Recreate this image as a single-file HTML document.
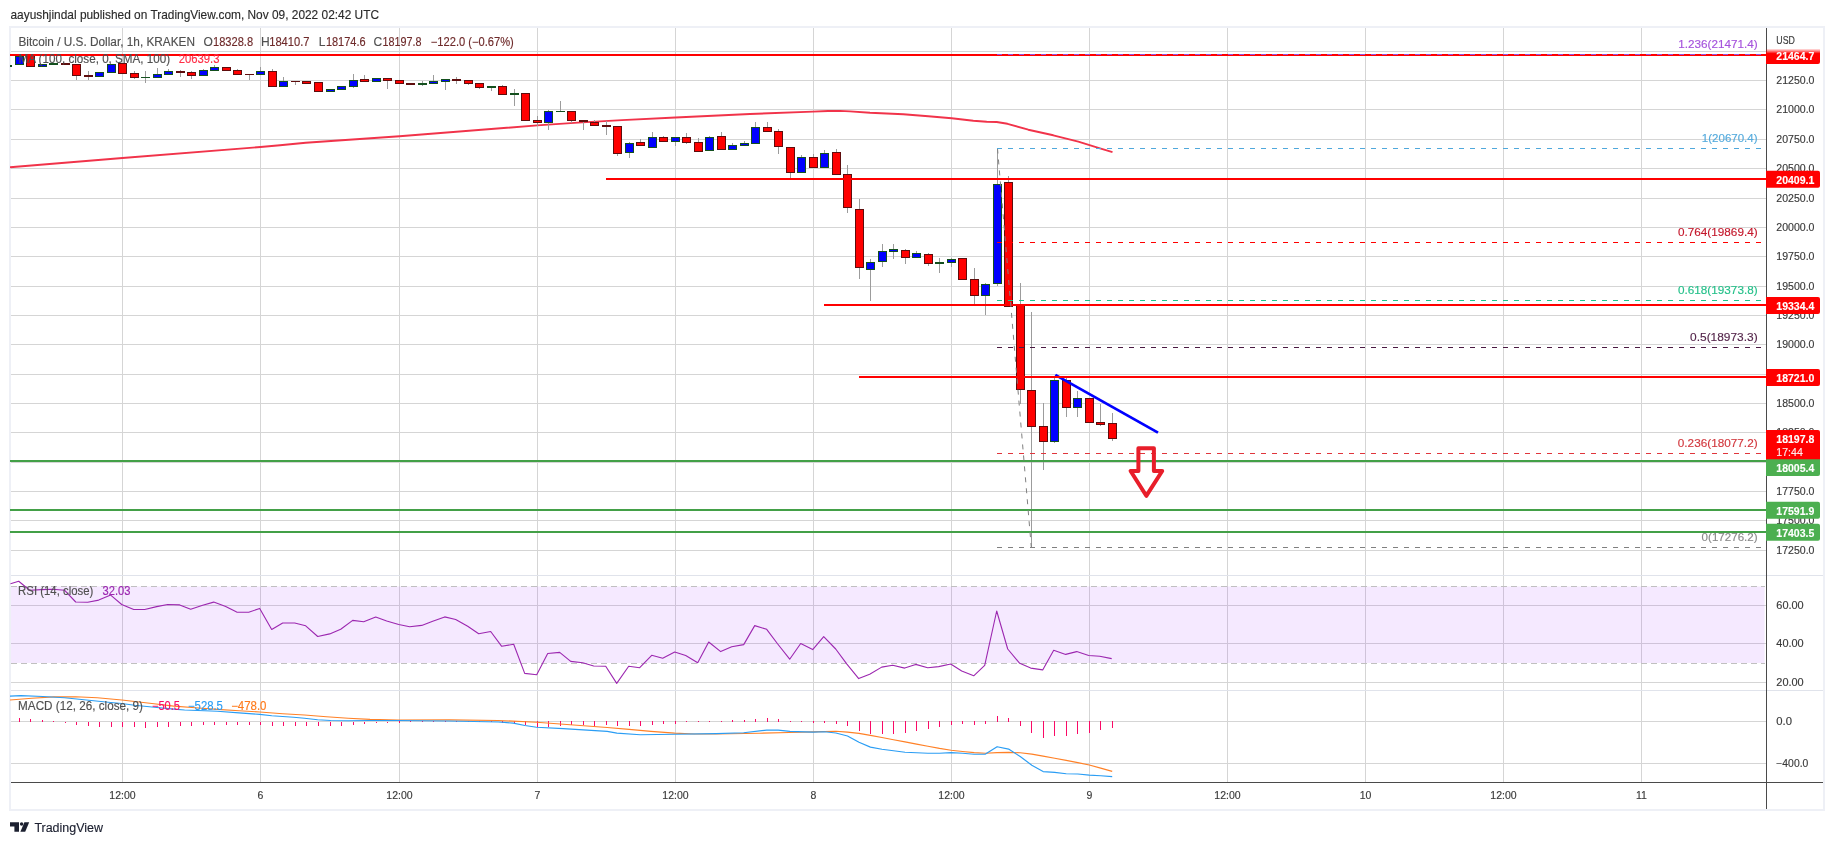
<!DOCTYPE html>
<html><head><meta charset="utf-8"><title>BTCUSD chart</title>
<style>html,body{margin:0;padding:0;background:#fff}body{width:1834px;height:845px;overflow:hidden;position:relative;font-family:"Liberation Sans",sans-serif}</style>
</head><body>
<svg width="1834" height="845" viewBox="0 0 1834 845" style="position:absolute;left:0;top:0;will-change:transform" font-family="Liberation Sans, sans-serif">
<defs><clipPath id="cp"><rect x="10" y="28" width="1756.5" height="754"/></clipPath><linearGradient id="fade" x1="0" y1="0" x2="0" y2="1"><stop offset="0" stop-color="#ff0000" stop-opacity="0"/><stop offset="0.33" stop-color="#ff0000" stop-opacity="1"/></linearGradient></defs>
<rect x="0" y="0" width="1834" height="845" fill="#ffffff"/>
<rect x="10" y="27" width="1814" height="783" fill="#ffffff" stroke="#eef0f6" stroke-width="2"/>
<g stroke="#d5d5d5" stroke-width="1" shape-rendering="crispEdges">
<line x1="122.5" y1="28" x2="122.5" y2="782"/>
<line x1="260.5" y1="28" x2="260.5" y2="782"/>
<line x1="399.5" y1="28" x2="399.5" y2="782"/>
<line x1="537.5" y1="28" x2="537.5" y2="782"/>
<line x1="675.5" y1="28" x2="675.5" y2="782"/>
<line x1="813.5" y1="28" x2="813.5" y2="782"/>
<line x1="951.5" y1="28" x2="951.5" y2="782"/>
<line x1="1089.5" y1="28" x2="1089.5" y2="782"/>
<line x1="1227.5" y1="28" x2="1227.5" y2="782"/>
<line x1="1365.5" y1="28" x2="1365.5" y2="782"/>
<line x1="1503.5" y1="28" x2="1503.5" y2="782"/>
<line x1="1641.5" y1="28" x2="1641.5" y2="782"/>
<line x1="11" y1="51.5" x2="1766" y2="51.5"/>
<line x1="11" y1="80.5" x2="1766" y2="80.5"/>
<line x1="11" y1="109.5" x2="1766" y2="109.5"/>
<line x1="11" y1="139.5" x2="1766" y2="139.5"/>
<line x1="11" y1="168.5" x2="1766" y2="168.5"/>
<line x1="11" y1="198.5" x2="1766" y2="198.5"/>
<line x1="11" y1="227.5" x2="1766" y2="227.5"/>
<line x1="11" y1="256.5" x2="1766" y2="256.5"/>
<line x1="11" y1="286.5" x2="1766" y2="286.5"/>
<line x1="11" y1="315.5" x2="1766" y2="315.5"/>
<line x1="11" y1="344.5" x2="1766" y2="344.5"/>
<line x1="11" y1="374.5" x2="1766" y2="374.5"/>
<line x1="11" y1="403.5" x2="1766" y2="403.5"/>
<line x1="11" y1="432.5" x2="1766" y2="432.5"/>
<line x1="11" y1="462.5" x2="1766" y2="462.5"/>
<line x1="11" y1="491.5" x2="1766" y2="491.5"/>
<line x1="11" y1="520.5" x2="1766" y2="520.5"/>
<line x1="11" y1="550.5" x2="1766" y2="550.5"/>
<line x1="11" y1="605.5" x2="1766" y2="605.5"/>
<line x1="11" y1="643.5" x2="1766" y2="643.5"/>
<line x1="11" y1="682.5" x2="1766" y2="682.5"/>
<line x1="11" y1="721.5" x2="1766" y2="721.5"/>
<line x1="11" y1="763.5" x2="1766" y2="763.5"/>
</g>
<g stroke="#e0e3eb" stroke-width="1" shape-rendering="crispEdges"><line x1="11" y1="575.5" x2="1823" y2="575.5"/><line x1="11" y1="690.5" x2="1823" y2="690.5"/></g>
<g clip-path="url(#cp)">
<rect x="11" y="586.4" width="1753.6" height="76.6" fill="#9c27ff" fill-opacity="0.10"/>
<g stroke="#c0c0c0" stroke-width="1" stroke-dasharray="6 4" shape-rendering="crispEdges"><line x1="11" y1="586.5" x2="1764.6" y2="586.5"/><line x1="11" y1="663.5" x2="1764.6" y2="663.5"/></g>
<polyline fill="none" stroke="#f1334a" stroke-width="1.9" stroke-linejoin="round" points="10,167.3 122.5,158 260.5,147 280,145.3 305.7,142.7 399.5,136.2 537.3,125.4 578,122.6 622,120.1 675.5,117.5 750,114 813,111.6 828,111.0 840,110.9 850,111.4 870,112.8 903.3,114.2 928.3,116.3 951.7,118.3 973.3,120.8 986.7,121.7 996.7,122 1007.5,123.8 1028.3,129.7 1053.3,135.3 1078.3,141.7 1100,148.3 1112.5,152.1"/>
<g shape-rendering="crispEdges">
<line x1="7.5" y1="64.7" x2="7.5" y2="66.5" stroke="#9c9c9c" stroke-width="1"/>
<line x1="19.5" y1="56.0" x2="19.5" y2="64.6" stroke="#9c9c9c" stroke-width="1"/>
<line x1="30.5" y1="55.0" x2="30.5" y2="66.5" stroke="#9c9c9c" stroke-width="1"/>
<line x1="42.5" y1="64.3" x2="42.5" y2="66.5" stroke="#9c9c9c" stroke-width="1"/>
<line x1="53.5" y1="62.7" x2="53.5" y2="64.7" stroke="#9c9c9c" stroke-width="1"/>
<line x1="65.5" y1="63.3" x2="65.5" y2="64.7" stroke="#9c9c9c" stroke-width="1"/>
<line x1="76.5" y1="64.3" x2="76.5" y2="80.2" stroke="#9c9c9c" stroke-width="1"/>
<line x1="88.5" y1="71.0" x2="88.5" y2="79.7" stroke="#9c9c9c" stroke-width="1"/>
<line x1="99.5" y1="72.3" x2="99.5" y2="76.5" stroke="#9c9c9c" stroke-width="1"/>
<line x1="111.5" y1="64.3" x2="111.5" y2="72.6" stroke="#9c9c9c" stroke-width="1"/>
<line x1="122.5" y1="63.3" x2="122.5" y2="73.5" stroke="#9c9c9c" stroke-width="1"/>
<line x1="134.5" y1="70.7" x2="134.5" y2="78.5" stroke="#9c9c9c" stroke-width="1"/>
<line x1="145.5" y1="71.0" x2="145.5" y2="82.7" stroke="#9c9c9c" stroke-width="1"/>
<line x1="157.5" y1="68.0" x2="157.5" y2="77.5" stroke="#9c9c9c" stroke-width="1"/>
<line x1="168.5" y1="69.0" x2="168.5" y2="74.5" stroke="#9c9c9c" stroke-width="1"/>
<line x1="180.5" y1="69.7" x2="180.5" y2="76.8" stroke="#9c9c9c" stroke-width="1"/>
<line x1="191.5" y1="71.0" x2="191.5" y2="79.0" stroke="#9c9c9c" stroke-width="1"/>
<line x1="203.5" y1="69.0" x2="203.5" y2="75.5" stroke="#9c9c9c" stroke-width="1"/>
<line x1="214.5" y1="65.2" x2="214.5" y2="70.5" stroke="#9c9c9c" stroke-width="1"/>
<line x1="226.5" y1="67.2" x2="226.5" y2="70.5" stroke="#9c9c9c" stroke-width="1"/>
<line x1="237.5" y1="69.0" x2="237.5" y2="74.5" stroke="#9c9c9c" stroke-width="1"/>
<line x1="249.5" y1="73.5" x2="249.5" y2="79.7" stroke="#9c9c9c" stroke-width="1"/>
<line x1="260.5" y1="66.5" x2="260.5" y2="74.5" stroke="#9c9c9c" stroke-width="1"/>
<line x1="272.5" y1="69.0" x2="272.5" y2="86.5" stroke="#9c9c9c" stroke-width="1"/>
<line x1="283.5" y1="77.0" x2="283.5" y2="86.7" stroke="#9c9c9c" stroke-width="1"/>
<line x1="295.5" y1="80.5" x2="295.5" y2="84.7" stroke="#9c9c9c" stroke-width="1"/>
<line x1="306.5" y1="81.0" x2="306.5" y2="84.0" stroke="#9c9c9c" stroke-width="1"/>
<line x1="318.5" y1="82.2" x2="318.5" y2="91.5" stroke="#9c9c9c" stroke-width="1"/>
<line x1="330.5" y1="89.2" x2="330.5" y2="91.5" stroke="#9c9c9c" stroke-width="1"/>
<line x1="341.5" y1="86.3" x2="341.5" y2="89.5" stroke="#9c9c9c" stroke-width="1"/>
<line x1="353.5" y1="74.2" x2="353.5" y2="87.5" stroke="#9c9c9c" stroke-width="1"/>
<line x1="364.5" y1="75.0" x2="364.5" y2="81.5" stroke="#9c9c9c" stroke-width="1"/>
<line x1="376.5" y1="78.3" x2="376.5" y2="81.5" stroke="#9c9c9c" stroke-width="1"/>
<line x1="387.5" y1="78.3" x2="387.5" y2="88.7" stroke="#9c9c9c" stroke-width="1"/>
<line x1="399.5" y1="80.2" x2="399.5" y2="83.5" stroke="#9c9c9c" stroke-width="1"/>
<line x1="410.5" y1="83.2" x2="410.5" y2="84.7" stroke="#9c9c9c" stroke-width="1"/>
<line x1="422.5" y1="80.5" x2="422.5" y2="85.5" stroke="#9c9c9c" stroke-width="1"/>
<line x1="433.5" y1="75.0" x2="433.5" y2="83.5" stroke="#9c9c9c" stroke-width="1"/>
<line x1="445.5" y1="79.2" x2="445.5" y2="89.7" stroke="#9c9c9c" stroke-width="1"/>
<line x1="456.5" y1="77.2" x2="456.5" y2="83.7" stroke="#9c9c9c" stroke-width="1"/>
<line x1="468.5" y1="80.2" x2="468.5" y2="85.3" stroke="#9c9c9c" stroke-width="1"/>
<line x1="479.5" y1="83.2" x2="479.5" y2="88.5" stroke="#9c9c9c" stroke-width="1"/>
<line x1="491.5" y1="86.3" x2="491.5" y2="90.5" stroke="#9c9c9c" stroke-width="1"/>
<line x1="502.5" y1="85.0" x2="502.5" y2="94.5" stroke="#9c9c9c" stroke-width="1"/>
<line x1="514.5" y1="89.2" x2="514.5" y2="105.5" stroke="#9c9c9c" stroke-width="1"/>
<line x1="525.5" y1="93.3" x2="525.5" y2="120.7" stroke="#9c9c9c" stroke-width="1"/>
<line x1="537.5" y1="115.8" x2="537.5" y2="126.3" stroke="#9c9c9c" stroke-width="1"/>
<line x1="548.5" y1="110.0" x2="548.5" y2="129.7" stroke="#9c9c9c" stroke-width="1"/>
<line x1="560.5" y1="101.2" x2="560.5" y2="112.0" stroke="#9c9c9c" stroke-width="1"/>
<line x1="571.5" y1="111.3" x2="571.5" y2="122.8" stroke="#9c9c9c" stroke-width="1"/>
<line x1="583.5" y1="120.0" x2="583.5" y2="129.7" stroke="#9c9c9c" stroke-width="1"/>
<line x1="594.5" y1="120.0" x2="594.5" y2="125.5" stroke="#9c9c9c" stroke-width="1"/>
<line x1="606.5" y1="120.8" x2="606.5" y2="134.7" stroke="#9c9c9c" stroke-width="1"/>
<line x1="617.5" y1="126.3" x2="617.5" y2="155.8" stroke="#9c9c9c" stroke-width="1"/>
<line x1="629.5" y1="142.2" x2="629.5" y2="157.5" stroke="#9c9c9c" stroke-width="1"/>
<line x1="640.5" y1="138.7" x2="640.5" y2="145.5" stroke="#9c9c9c" stroke-width="1"/>
<line x1="652.5" y1="132.0" x2="652.5" y2="147.5" stroke="#9c9c9c" stroke-width="1"/>
<line x1="663.5" y1="136.2" x2="663.5" y2="141.5" stroke="#9c9c9c" stroke-width="1"/>
<line x1="675.5" y1="137.2" x2="675.5" y2="145.8" stroke="#9c9c9c" stroke-width="1"/>
<line x1="686.5" y1="133.0" x2="686.5" y2="143.7" stroke="#9c9c9c" stroke-width="1"/>
<line x1="698.5" y1="138.0" x2="698.5" y2="151.7" stroke="#9c9c9c" stroke-width="1"/>
<line x1="709.5" y1="136.2" x2="709.5" y2="150.5" stroke="#9c9c9c" stroke-width="1"/>
<line x1="721.5" y1="132.0" x2="721.5" y2="149.5" stroke="#9c9c9c" stroke-width="1"/>
<line x1="732.5" y1="143.0" x2="732.5" y2="149.5" stroke="#9c9c9c" stroke-width="1"/>
<line x1="744.5" y1="141.0" x2="744.5" y2="145.5" stroke="#9c9c9c" stroke-width="1"/>
<line x1="755.5" y1="122.0" x2="755.5" y2="143.5" stroke="#9c9c9c" stroke-width="1"/>
<line x1="767.5" y1="122.0" x2="767.5" y2="131.5" stroke="#9c9c9c" stroke-width="1"/>
<line x1="778.5" y1="129.2" x2="778.5" y2="153.8" stroke="#9c9c9c" stroke-width="1"/>
<line x1="790.5" y1="147.3" x2="790.5" y2="178.3" stroke="#9c9c9c" stroke-width="1"/>
<line x1="801.5" y1="155.0" x2="801.5" y2="172.5" stroke="#9c9c9c" stroke-width="1"/>
<line x1="813.5" y1="153.8" x2="813.5" y2="167.5" stroke="#9c9c9c" stroke-width="1"/>
<line x1="824.5" y1="150.0" x2="824.5" y2="167.5" stroke="#9c9c9c" stroke-width="1"/>
<line x1="836.5" y1="148.8" x2="836.5" y2="174.5" stroke="#9c9c9c" stroke-width="1"/>
<line x1="847.5" y1="165.0" x2="847.5" y2="212.8" stroke="#9c9c9c" stroke-width="1"/>
<line x1="859.5" y1="199.2" x2="859.5" y2="278.8" stroke="#9c9c9c" stroke-width="1"/>
<line x1="870.5" y1="259.0" x2="870.5" y2="300.7" stroke="#9c9c9c" stroke-width="1"/>
<line x1="882.5" y1="244.2" x2="882.5" y2="266.7" stroke="#9c9c9c" stroke-width="1"/>
<line x1="893.5" y1="243.8" x2="893.5" y2="258.7" stroke="#9c9c9c" stroke-width="1"/>
<line x1="905.5" y1="249.3" x2="905.5" y2="263.7" stroke="#9c9c9c" stroke-width="1"/>
<line x1="916.5" y1="251.2" x2="916.5" y2="257.5" stroke="#9c9c9c" stroke-width="1"/>
<line x1="928.5" y1="253.0" x2="928.5" y2="265.8" stroke="#9c9c9c" stroke-width="1"/>
<line x1="939.5" y1="258.0" x2="939.5" y2="272.8" stroke="#9c9c9c" stroke-width="1"/>
<line x1="951.5" y1="258.3" x2="951.5" y2="266.7" stroke="#9c9c9c" stroke-width="1"/>
<line x1="962.5" y1="258.3" x2="962.5" y2="279.5" stroke="#9c9c9c" stroke-width="1"/>
<line x1="974.5" y1="268.2" x2="974.5" y2="304.0" stroke="#9c9c9c" stroke-width="1"/>
<line x1="985.5" y1="283.2" x2="985.5" y2="315.0" stroke="#9c9c9c" stroke-width="1"/>
<line x1="997.5" y1="148.4" x2="997.5" y2="286.0" stroke="#9c9c9c" stroke-width="1"/>
<line x1="1008.5" y1="176.3" x2="1008.5" y2="306.7" stroke="#9c9c9c" stroke-width="1"/>
<line x1="1020.5" y1="283.2" x2="1020.5" y2="404.0" stroke="#9c9c9c" stroke-width="1"/>
<line x1="1031.5" y1="312.0" x2="1031.5" y2="547.3" stroke="#9c9c9c" stroke-width="1"/>
<line x1="1043.5" y1="403.4" x2="1043.5" y2="469.7" stroke="#9c9c9c" stroke-width="1"/>
<line x1="1054.5" y1="378.0" x2="1054.5" y2="442.7" stroke="#9c9c9c" stroke-width="1"/>
<line x1="1066.5" y1="378.0" x2="1066.5" y2="416.7" stroke="#9c9c9c" stroke-width="1"/>
<line x1="1077.5" y1="390.5" x2="1077.5" y2="416.7" stroke="#9c9c9c" stroke-width="1"/>
<line x1="1089.5" y1="398.3" x2="1089.5" y2="422.6" stroke="#9c9c9c" stroke-width="1"/>
<line x1="1100.5" y1="403.8" x2="1100.5" y2="425.6" stroke="#9c9c9c" stroke-width="1"/>
<line x1="1112.5" y1="413.0" x2="1112.5" y2="440.7" stroke="#9c9c9c" stroke-width="1"/>
<rect x="3.0" y="65" width="9" height="2" fill="#14501e"/>
<rect x="15.5" y="56.5" width="8" height="8" fill="#0000ff" stroke="#14501e" stroke-width="1"/>
<rect x="26.5" y="55.5" width="8" height="11" fill="#ff0000" stroke="#5e0d0d" stroke-width="1"/>
<rect x="38.5" y="64.5" width="8" height="2" fill="#0000ff" stroke="#14501e" stroke-width="1"/>
<rect x="49.5" y="63.5" width="8" height="1" fill="#0000ff" stroke="#14501e" stroke-width="1"/>
<rect x="61.0" y="63" width="9" height="2" fill="#5e0d0d"/>
<rect x="72.5" y="64.5" width="8" height="11" fill="#ff0000" stroke="#5e0d0d" stroke-width="1"/>
<rect x="84.0" y="75" width="9" height="2" fill="#5e0d0d"/>
<rect x="95.5" y="72.5" width="8" height="4" fill="#0000ff" stroke="#14501e" stroke-width="1"/>
<rect x="107.5" y="64.5" width="8" height="8" fill="#0000ff" stroke="#14501e" stroke-width="1"/>
<rect x="118.5" y="63.5" width="8" height="10" fill="#ff0000" stroke="#5e0d0d" stroke-width="1"/>
<rect x="130.5" y="73.5" width="8" height="4" fill="#ff0000" stroke="#5e0d0d" stroke-width="1"/>
<rect x="141.0" y="77" width="9" height="1" fill="#14501e"/>
<rect x="153.5" y="74.5" width="8" height="3" fill="#0000ff" stroke="#14501e" stroke-width="1"/>
<rect x="164.5" y="71.5" width="8" height="3" fill="#0000ff" stroke="#14501e" stroke-width="1"/>
<rect x="176.0" y="71" width="9" height="2" fill="#5e0d0d"/>
<rect x="187.5" y="72.5" width="8" height="3" fill="#ff0000" stroke="#5e0d0d" stroke-width="1"/>
<rect x="199.5" y="70.5" width="8" height="5" fill="#0000ff" stroke="#14501e" stroke-width="1"/>
<rect x="210.5" y="67.5" width="8" height="3" fill="#0000ff" stroke="#14501e" stroke-width="1"/>
<rect x="222.5" y="67.5" width="8" height="3" fill="#ff0000" stroke="#5e0d0d" stroke-width="1"/>
<rect x="233.5" y="70.5" width="8" height="4" fill="#ff0000" stroke="#5e0d0d" stroke-width="1"/>
<rect x="245.0" y="74" width="9" height="1" fill="#5e0d0d"/>
<rect x="256.5" y="71.5" width="8" height="3" fill="#0000ff" stroke="#14501e" stroke-width="1"/>
<rect x="268.5" y="71.5" width="8" height="15" fill="#ff0000" stroke="#5e0d0d" stroke-width="1"/>
<rect x="279.5" y="81.5" width="8" height="5" fill="#0000ff" stroke="#14501e" stroke-width="1"/>
<rect x="291.0" y="81" width="9" height="1" fill="#5e0d0d"/>
<rect x="302.5" y="81.5" width="8" height="2" fill="#ff0000" stroke="#5e0d0d" stroke-width="1"/>
<rect x="314.5" y="82.5" width="8" height="9" fill="#ff0000" stroke="#5e0d0d" stroke-width="1"/>
<rect x="326.5" y="89.5" width="8" height="2" fill="#0000ff" stroke="#14501e" stroke-width="1"/>
<rect x="337.5" y="86.5" width="8" height="3" fill="#0000ff" stroke="#14501e" stroke-width="1"/>
<rect x="349.5" y="80.5" width="8" height="6" fill="#0000ff" stroke="#14501e" stroke-width="1"/>
<rect x="360.5" y="79.5" width="8" height="2" fill="#ff0000" stroke="#5e0d0d" stroke-width="1"/>
<rect x="372.5" y="78.5" width="8" height="3" fill="#0000ff" stroke="#14501e" stroke-width="1"/>
<rect x="383.5" y="78.5" width="8" height="2" fill="#ff0000" stroke="#5e0d0d" stroke-width="1"/>
<rect x="395.5" y="80.5" width="8" height="3" fill="#ff0000" stroke="#5e0d0d" stroke-width="1"/>
<rect x="406.0" y="83" width="9" height="2" fill="#5e0d0d"/>
<rect x="418.0" y="83" width="9" height="2" fill="#14501e"/>
<rect x="429.5" y="81.5" width="8" height="2" fill="#0000ff" stroke="#14501e" stroke-width="1"/>
<rect x="441.5" y="79.5" width="8" height="2" fill="#0000ff" stroke="#14501e" stroke-width="1"/>
<rect x="452.0" y="79" width="9" height="2" fill="#5e0d0d"/>
<rect x="464.5" y="80.5" width="8" height="3" fill="#ff0000" stroke="#5e0d0d" stroke-width="1"/>
<rect x="475.5" y="83.5" width="8" height="4" fill="#ff0000" stroke="#5e0d0d" stroke-width="1"/>
<rect x="487.0" y="86" width="9" height="2" fill="#14501e"/>
<rect x="498.5" y="86.5" width="8" height="8" fill="#ff0000" stroke="#5e0d0d" stroke-width="1"/>
<rect x="510.0" y="93" width="9" height="2" fill="#14501e"/>
<rect x="521.5" y="93.5" width="8" height="27" fill="#ff0000" stroke="#5e0d0d" stroke-width="1"/>
<rect x="533.5" y="120.5" width="8" height="2" fill="#ff0000" stroke="#5e0d0d" stroke-width="1"/>
<rect x="544.5" y="111.5" width="8" height="11" fill="#0000ff" stroke="#14501e" stroke-width="1"/>
<rect x="556.0" y="111" width="9" height="1" fill="#14501e"/>
<rect x="567.5" y="111.5" width="8" height="9" fill="#ff0000" stroke="#5e0d0d" stroke-width="1"/>
<rect x="579.0" y="120" width="9" height="2" fill="#5e0d0d"/>
<rect x="590.5" y="122.5" width="8" height="3" fill="#ff0000" stroke="#5e0d0d" stroke-width="1"/>
<rect x="602.0" y="125" width="9" height="2" fill="#5e0d0d"/>
<rect x="613.5" y="126.5" width="8" height="27" fill="#ff0000" stroke="#5e0d0d" stroke-width="1"/>
<rect x="625.5" y="143.5" width="8" height="9" fill="#0000ff" stroke="#14501e" stroke-width="1"/>
<rect x="636.5" y="142.5" width="8" height="3" fill="#ff0000" stroke="#5e0d0d" stroke-width="1"/>
<rect x="648.5" y="137.5" width="8" height="10" fill="#0000ff" stroke="#14501e" stroke-width="1"/>
<rect x="659.5" y="137.5" width="8" height="4" fill="#ff0000" stroke="#5e0d0d" stroke-width="1"/>
<rect x="671.5" y="137.5" width="8" height="4" fill="#0000ff" stroke="#14501e" stroke-width="1"/>
<rect x="682.5" y="137.5" width="8" height="5" fill="#ff0000" stroke="#5e0d0d" stroke-width="1"/>
<rect x="694.5" y="142.5" width="8" height="9" fill="#ff0000" stroke="#5e0d0d" stroke-width="1"/>
<rect x="705.5" y="137.5" width="8" height="13" fill="#0000ff" stroke="#14501e" stroke-width="1"/>
<rect x="717.5" y="136.5" width="8" height="13" fill="#ff0000" stroke="#5e0d0d" stroke-width="1"/>
<rect x="728.5" y="145.5" width="8" height="4" fill="#0000ff" stroke="#14501e" stroke-width="1"/>
<rect x="740.5" y="143.5" width="8" height="2" fill="#0000ff" stroke="#14501e" stroke-width="1"/>
<rect x="751.5" y="127.5" width="8" height="16" fill="#0000ff" stroke="#14501e" stroke-width="1"/>
<rect x="763.5" y="127.5" width="8" height="4" fill="#ff0000" stroke="#5e0d0d" stroke-width="1"/>
<rect x="774.5" y="131.5" width="8" height="15" fill="#ff0000" stroke="#5e0d0d" stroke-width="1"/>
<rect x="786.5" y="147.5" width="8" height="25" fill="#ff0000" stroke="#5e0d0d" stroke-width="1"/>
<rect x="797.5" y="157.5" width="8" height="15" fill="#0000ff" stroke="#14501e" stroke-width="1"/>
<rect x="809.5" y="157.5" width="8" height="10" fill="#ff0000" stroke="#5e0d0d" stroke-width="1"/>
<rect x="820.5" y="153.5" width="8" height="14" fill="#0000ff" stroke="#14501e" stroke-width="1"/>
<rect x="832.5" y="152.5" width="8" height="22" fill="#ff0000" stroke="#5e0d0d" stroke-width="1"/>
<rect x="843.5" y="174.5" width="8" height="33" fill="#ff0000" stroke="#5e0d0d" stroke-width="1"/>
<rect x="855.5" y="209.5" width="8" height="58" fill="#ff0000" stroke="#5e0d0d" stroke-width="1"/>
<rect x="866.5" y="262.5" width="8" height="7" fill="#0000ff" stroke="#14501e" stroke-width="1"/>
<rect x="878.5" y="251.5" width="8" height="10" fill="#0000ff" stroke="#14501e" stroke-width="1"/>
<rect x="889.5" y="249.5" width="8" height="2" fill="#0000ff" stroke="#14501e" stroke-width="1"/>
<rect x="901.5" y="250.5" width="8" height="7" fill="#ff0000" stroke="#5e0d0d" stroke-width="1"/>
<rect x="912.5" y="253.5" width="8" height="4" fill="#0000ff" stroke="#14501e" stroke-width="1"/>
<rect x="924.5" y="254.5" width="8" height="9" fill="#ff0000" stroke="#5e0d0d" stroke-width="1"/>
<rect x="935.0" y="262" width="9" height="2" fill="#14501e"/>
<rect x="947.5" y="259.5" width="8" height="3" fill="#0000ff" stroke="#14501e" stroke-width="1"/>
<rect x="958.5" y="258.5" width="8" height="21" fill="#ff0000" stroke="#5e0d0d" stroke-width="1"/>
<rect x="970.5" y="279.5" width="8" height="16" fill="#ff0000" stroke="#5e0d0d" stroke-width="1"/>
<rect x="981.5" y="284.5" width="8" height="11" fill="#0000ff" stroke="#14501e" stroke-width="1"/>
<rect x="993.5" y="184.5" width="8" height="99" fill="#0000ff" stroke="#14501e" stroke-width="1"/>
<rect x="1004.5" y="182.5" width="8" height="124" fill="#ff0000" stroke="#5e0d0d" stroke-width="1"/>
<rect x="1016.5" y="305.5" width="8" height="84" fill="#ff0000" stroke="#5e0d0d" stroke-width="1"/>
<rect x="1027.5" y="390.5" width="8" height="36" fill="#ff0000" stroke="#5e0d0d" stroke-width="1"/>
<rect x="1039.5" y="426.5" width="8" height="15" fill="#ff0000" stroke="#5e0d0d" stroke-width="1"/>
<rect x="1050.5" y="380.5" width="8" height="61" fill="#0000ff" stroke="#14501e" stroke-width="1"/>
<rect x="1062.5" y="380.5" width="8" height="27" fill="#ff0000" stroke="#5e0d0d" stroke-width="1"/>
<rect x="1073.5" y="398.5" width="8" height="9" fill="#0000ff" stroke="#14501e" stroke-width="1"/>
<rect x="1085.5" y="398.5" width="8" height="24" fill="#ff0000" stroke="#5e0d0d" stroke-width="1"/>
<rect x="1096.5" y="422.5" width="8" height="2" fill="#ff0000" stroke="#5e0d0d" stroke-width="1"/>
<rect x="1108.5" y="423.5" width="8" height="15" fill="#ff0000" stroke="#5e0d0d" stroke-width="1"/>
</g>
<line x1="1055.3" y1="374.9" x2="1158" y2="432.6" stroke="#0000ff" stroke-width="2.8"/>
<line x1="10" y1="55" x2="1766" y2="55" stroke="#ff0000" stroke-width="2" shape-rendering="crispEdges"/>
<line x1="606" y1="179" x2="1766" y2="179" stroke="#ff0000" stroke-width="2" shape-rendering="crispEdges"/>
<line x1="824" y1="305" x2="1766" y2="305" stroke="#ff0000" stroke-width="2" shape-rendering="crispEdges"/>
<line x1="859" y1="377" x2="1766" y2="377" stroke="#ff0000" stroke-width="2" shape-rendering="crispEdges"/>
<line x1="10" y1="461" x2="1766" y2="461" stroke="#43a047" stroke-width="2" shape-rendering="crispEdges"/>
<line x1="10" y1="510" x2="1766" y2="510" stroke="#43a047" stroke-width="2" shape-rendering="crispEdges"/>
<line x1="10" y1="532" x2="1766" y2="532" stroke="#43a047" stroke-width="2" shape-rendering="crispEdges"/>
<line x1="997.5" y1="148.5" x2="1031.3" y2="547.2" stroke="#808080" stroke-width="1" stroke-dasharray="5 6"/>
<line x1="997" y1="54.5" x2="1761" y2="54.5" stroke="#9c4fd8" stroke-width="1" stroke-dasharray="5 6" shape-rendering="crispEdges"/>
<line x1="997" y1="148.5" x2="1761" y2="148.5" stroke="#4fa8dc" stroke-width="1" stroke-dasharray="5 6" shape-rendering="crispEdges"/>
<line x1="997" y1="242.5" x2="1761" y2="242.5" stroke="#ff0000" stroke-width="1" stroke-dasharray="5 6" shape-rendering="crispEdges"/>
<line x1="997" y1="300.5" x2="1761" y2="300.5" stroke="#1fc28a" stroke-width="1" stroke-dasharray="5 6" shape-rendering="crispEdges"/>
<line x1="997" y1="347.5" x2="1761" y2="347.5" stroke="#4a1942" stroke-width="1" stroke-dasharray="5 6" shape-rendering="crispEdges"/>
<line x1="997" y1="453.5" x2="1761" y2="453.5" stroke="#e0353c" stroke-width="1" stroke-dasharray="5 6" shape-rendering="crispEdges"/>
<line x1="997" y1="547.5" x2="1761" y2="547.5" stroke="#808080" stroke-width="1" stroke-dasharray="5 6" shape-rendering="crispEdges"/>
<path d="M1138.4 448.3 H1153.9 V471 H1162.2 L1146.3 495.8 L1130.6 471 H1138.4 Z" fill="none" stroke="#e81e2a" stroke-width="4" stroke-linejoin="round"/>
<polyline fill="none" stroke="#9c27b0" stroke-width="1.1" stroke-linejoin="round" points="10.5,583.7 18.7,581.3 29.7,590.3 41.7,589.6 52.7,589.2 64.7,590.3 75.7,602.0 87.7,602.3 98.7,600.1 110.7,595.1 121.7,604.5 133.7,609.5 144.7,609.5 156.7,606.6 167.7,604.5 179.7,604.9 190.7,609.3 202.7,605.3 213.7,602.1 225.7,606.6 236.7,612.1 248.7,612.3 259.7,608.4 271.7,629.5 282.7,623.0 294.7,623.0 305.7,625.8 317.7,636.5 329.7,633.9 340.7,629.3 352.7,620.4 363.7,621.7 375.7,617.1 386.7,621.0 398.7,624.5 409.7,626.7 421.7,625.4 432.7,621.3 444.7,616.9 455.7,619.5 467.7,626.3 478.7,633.7 490.7,631.5 501.7,646.3 513.7,644.2 524.7,673.4 536.7,674.7 547.7,653.5 559.7,652.4 570.7,661.4 582.7,662.7 593.7,666.0 605.7,666.2 616.7,683.4 628.7,666.2 639.7,667.7 651.7,655.3 662.7,658.3 674.7,652.0 685.7,655.5 697.7,662.7 708.7,642.0 720.7,651.6 731.7,646.8 743.7,644.6 754.7,625.6 766.7,629.3 777.7,644.0 789.7,659.2 800.7,643.5 812.7,649.6 823.7,636.7 835.7,649.0 846.7,663.8 858.7,678.6 869.7,674.3 881.7,667.1 892.7,665.3 904.7,668.1 915.7,664.4 927.7,667.7 938.7,666.6 950.7,664.0 961.7,671.0 973.7,675.8 984.7,665.3 996.7,611.0 1007.7,649.0 1019.7,663.3 1030.7,668.1 1042.7,669.9 1053.7,650.3 1065.7,654.4 1076.7,651.6 1088.7,655.5 1099.7,656.2 1111.7,658.6"/>
<g stroke="#fa0a66" stroke-width="1" shape-rendering="crispEdges">
<line x1="19.5" y1="718" x2="19.5" y2="722"/>
<line x1="30.5" y1="719" x2="30.5" y2="722"/>
<line x1="42.5" y1="720" x2="42.5" y2="722"/>
<line x1="53.5" y1="721" x2="53.5" y2="722"/>
<line x1="65.5" y1="722" x2="65.5" y2="723"/>
<line x1="76.5" y1="722" x2="76.5" y2="725"/>
<line x1="88.5" y1="722" x2="88.5" y2="726"/>
<line x1="99.5" y1="722" x2="99.5" y2="727"/>
<line x1="111.5" y1="722" x2="111.5" y2="727"/>
<line x1="122.5" y1="722" x2="122.5" y2="727"/>
<line x1="134.5" y1="722" x2="134.5" y2="727"/>
<line x1="145.5" y1="722" x2="145.5" y2="728"/>
<line x1="157.5" y1="722" x2="157.5" y2="727"/>
<line x1="168.5" y1="722" x2="168.5" y2="727"/>
<line x1="180.5" y1="722" x2="180.5" y2="726"/>
<line x1="191.5" y1="722" x2="191.5" y2="726"/>
<line x1="203.5" y1="722" x2="203.5" y2="725"/>
<line x1="214.5" y1="722" x2="214.5" y2="725"/>
<line x1="226.5" y1="722" x2="226.5" y2="725"/>
<line x1="237.5" y1="722" x2="237.5" y2="725"/>
<line x1="249.5" y1="722" x2="249.5" y2="725"/>
<line x1="260.5" y1="722" x2="260.5" y2="725"/>
<line x1="272.5" y1="722" x2="272.5" y2="726"/>
<line x1="283.5" y1="722" x2="283.5" y2="726"/>
<line x1="295.5" y1="722" x2="295.5" y2="726"/>
<line x1="306.5" y1="722" x2="306.5" y2="726"/>
<line x1="318.5" y1="722" x2="318.5" y2="726"/>
<line x1="330.5" y1="722" x2="330.5" y2="726"/>
<line x1="341.5" y1="722" x2="341.5" y2="726"/>
<line x1="353.5" y1="722" x2="353.5" y2="725"/>
<line x1="364.5" y1="722" x2="364.5" y2="724"/>
<line x1="376.5" y1="722" x2="376.5" y2="723"/>
<line x1="387.5" y1="722" x2="387.5" y2="723"/>
<line x1="399.5" y1="721" x2="399.5" y2="723"/>
<line x1="410.5" y1="721" x2="410.5" y2="722"/>
<line x1="422.5" y1="721" x2="422.5" y2="722"/>
<line x1="433.5" y1="721" x2="433.5" y2="722"/>
<line x1="445.5" y1="721" x2="445.5" y2="722"/>
<line x1="456.5" y1="721" x2="456.5" y2="722"/>
<line x1="468.5" y1="721" x2="468.5" y2="722"/>
<line x1="479.5" y1="721" x2="479.5" y2="722"/>
<line x1="491.5" y1="721" x2="491.5" y2="722"/>
<line x1="502.5" y1="721" x2="502.5" y2="723"/>
<line x1="514.5" y1="721" x2="514.5" y2="724"/>
<line x1="525.5" y1="721" x2="525.5" y2="725"/>
<line x1="537.5" y1="721" x2="537.5" y2="727"/>
<line x1="548.5" y1="721" x2="548.5" y2="727"/>
<line x1="560.5" y1="721" x2="560.5" y2="726"/>
<line x1="571.5" y1="721" x2="571.5" y2="725"/>
<line x1="583.5" y1="721" x2="583.5" y2="725"/>
<line x1="594.5" y1="721" x2="594.5" y2="726"/>
<line x1="606.5" y1="721" x2="606.5" y2="725"/>
<line x1="617.5" y1="721" x2="617.5" y2="726"/>
<line x1="629.5" y1="721" x2="629.5" y2="726"/>
<line x1="640.5" y1="721" x2="640.5" y2="726"/>
<line x1="652.5" y1="721" x2="652.5" y2="725"/>
<line x1="663.5" y1="721" x2="663.5" y2="724"/>
<line x1="675.5" y1="721" x2="675.5" y2="724"/>
<line x1="686.5" y1="721" x2="686.5" y2="722"/>
<line x1="698.5" y1="721" x2="698.5" y2="722"/>
<line x1="709.5" y1="721" x2="709.5" y2="722"/>
<line x1="721.5" y1="721" x2="721.5" y2="722"/>
<line x1="732.5" y1="720" x2="732.5" y2="722"/>
<line x1="744.5" y1="720" x2="744.5" y2="722"/>
<line x1="755.5" y1="719" x2="755.5" y2="722"/>
<line x1="767.5" y1="718" x2="767.5" y2="722"/>
<line x1="778.5" y1="719" x2="778.5" y2="722"/>
<line x1="790.5" y1="721" x2="790.5" y2="722"/>
<line x1="801.5" y1="721" x2="801.5" y2="722"/>
<line x1="813.5" y1="721" x2="813.5" y2="723"/>
<line x1="824.5" y1="721" x2="824.5" y2="723"/>
<line x1="836.5" y1="721" x2="836.5" y2="724"/>
<line x1="847.5" y1="721" x2="847.5" y2="726"/>
<line x1="859.5" y1="721" x2="859.5" y2="731"/>
<line x1="870.5" y1="721" x2="870.5" y2="734"/>
<line x1="882.5" y1="721" x2="882.5" y2="734"/>
<line x1="893.5" y1="721" x2="893.5" y2="734"/>
<line x1="905.5" y1="721" x2="905.5" y2="733"/>
<line x1="916.5" y1="721" x2="916.5" y2="731"/>
<line x1="928.5" y1="721" x2="928.5" y2="729"/>
<line x1="939.5" y1="721" x2="939.5" y2="727"/>
<line x1="951.5" y1="721" x2="951.5" y2="725"/>
<line x1="962.5" y1="721" x2="962.5" y2="724"/>
<line x1="974.5" y1="721" x2="974.5" y2="725"/>
<line x1="985.5" y1="721" x2="985.5" y2="724"/>
<line x1="997.5" y1="716" x2="997.5" y2="722"/>
<line x1="1008.5" y1="718" x2="1008.5" y2="722"/>
<line x1="1020.5" y1="721" x2="1020.5" y2="726"/>
<line x1="1031.5" y1="721" x2="1031.5" y2="733"/>
<line x1="1043.5" y1="721" x2="1043.5" y2="738"/>
<line x1="1054.5" y1="721" x2="1054.5" y2="736"/>
<line x1="1066.5" y1="721" x2="1066.5" y2="736"/>
<line x1="1077.5" y1="721" x2="1077.5" y2="734"/>
<line x1="1089.5" y1="721" x2="1089.5" y2="733"/>
<line x1="1100.5" y1="721" x2="1100.5" y2="730"/>
<line x1="1112.5" y1="721" x2="1112.5" y2="728"/>
</g>
<polyline fill="none" stroke="#ff8127" stroke-width="1.15" stroke-linejoin="round" points="9.7,700 31.9,698.2 53.7,696.9 75.5,696.7 97.3,697.8 121.8,700 151.9,703.5 173.7,706.1 195.5,707.8 217.3,709.4 239.1,710.7 259.8,712 282.7,713.7 304.5,715 326.4,716.8 348.2,718.3 370.0,719.4 398.2,720 449.2,719.9 498.2,720.5 536.6,722.2 607.2,727.5 629.1,729.4 650.9,731.4 674.7,733.1 694.5,734 716.2,734 759.2,733.2 789.2,732.5 812.8,731.9 835.9,731.2 847.5,732.1 859.0,733.4 870.4,735.4 881.9,737.5 893.5,739.7 905.0,741.9 916.6,744.1 927.9,746.3 939.5,748.4 951.1,750.2 962.6,751.5 974.2,752.6 985.5,753.2 997.1,752.6 1008.6,752.4 1020.2,752.8 1031.8,754.1 1043.1,756.1 1054.7,758.3 1066.2,760.4 1077.8,762.6 1089.3,765 1100.7,768.1 1112.2,771.4"/>
<polyline fill="none" stroke="#2a9df4" stroke-width="1.15" stroke-linejoin="round" points="9.7,696.1 21.0,695.6 42.8,696.5 64.6,697.8 86.4,700 108.2,702.2 121.8,703.5 134.4,705.2 151.9,707 173.7,709.1 184.6,710 217.3,711.3 239.1,712.9 259.8,714.4 271.8,715.7 293.6,717.2 304.5,718.3 317.6,719.8 330.7,720.5 348.2,720.7 370.0,720.5 398.2,720.5 449.2,721 498.2,722 513.2,723.1 524.9,725.5 536.6,727.3 563.2,728.6 607.2,731.4 616.9,733.1 640.2,734.7 674.7,734.2 716.2,733.6 743.6,732.7 766.7,730.1 778.2,730.1 789.9,731.4 812.8,732.1 824.3,731.7 835.9,733 847.5,736 859.0,742.3 870.4,747.1 881.9,749.3 893.5,750.8 905.0,752.2 916.6,752.8 927.9,753.2 939.5,753.2 951.1,752.6 962.6,753.2 974.2,754.3 985.5,754.1 997.1,746.7 1008.6,749.1 1020.2,756.5 1031.8,765.2 1043.1,771.6 1054.7,772.4 1066.2,773.8 1077.8,774 1089.3,775.1 1100.7,775.7 1112.2,776.6"/>
</g>
<text x="1678.1999999999998" y="47.7" font-size="11.7" fill="#a552dc" stroke="#a552dc" stroke-width="0.15" text-anchor="start" textLength="79.4" lengthAdjust="spacingAndGlyphs">1.236(21471.4)</text>
<text x="1701.8" y="141.7" font-size="11.7" fill="#55abdd" stroke="#55abdd" stroke-width="0.15" text-anchor="start" textLength="55.8" lengthAdjust="spacingAndGlyphs">1(20670.4)</text>
<text x="1678.0" y="235.7" font-size="11.7" fill="#c4182c" stroke="#c4182c" stroke-width="0.15" text-anchor="start" textLength="79.6" lengthAdjust="spacingAndGlyphs">0.764(19869.4)</text>
<text x="1678.0" y="293.7" font-size="11.7" fill="#25c08a" stroke="#25c08a" stroke-width="0.15" text-anchor="start" textLength="79.6" lengthAdjust="spacingAndGlyphs">0.618(19373.8)</text>
<text x="1690.1" y="340.7" font-size="11.7" fill="#55264b" stroke="#55264b" stroke-width="0.15" text-anchor="start" textLength="67.5" lengthAdjust="spacingAndGlyphs">0.5(18973.3)</text>
<text x="1677.8" y="446.7" font-size="11.7" fill="#d2383e" stroke="#d2383e" stroke-width="0.15" text-anchor="start" textLength="79.8" lengthAdjust="spacingAndGlyphs">0.236(18077.2)</text>
<text x="1701.6" y="540.7" font-size="11.7" fill="#8a8a8a" stroke="#8a8a8a" stroke-width="0.15" text-anchor="start" textLength="56" lengthAdjust="spacingAndGlyphs">0(17276.2)</text>
<g stroke="#4a4a4a" stroke-width="1" shape-rendering="crispEdges"><line x1="1766.5" y1="28" x2="1766.5" y2="809"/><line x1="11" y1="782.5" x2="1823" y2="782.5"/></g>
<text x="1776.3" y="43.7" font-size="10.5" fill="#3a3a3a" stroke="#3a3a3a" stroke-width="0.15" text-anchor="start" textLength="18.6" lengthAdjust="spacingAndGlyphs">USD</text>
<text x="1776.3" y="83.8" font-size="10.2" fill="#3a3a3a" stroke="#3a3a3a" stroke-width="0.15" text-anchor="start" textLength="38.2" lengthAdjust="spacingAndGlyphs">21250.0</text>
<text x="1776.3" y="112.8" font-size="10.2" fill="#3a3a3a" stroke="#3a3a3a" stroke-width="0.15" text-anchor="start" textLength="38.2" lengthAdjust="spacingAndGlyphs">21000.0</text>
<text x="1776.3" y="142.8" font-size="10.2" fill="#3a3a3a" stroke="#3a3a3a" stroke-width="0.15" text-anchor="start" textLength="38.2" lengthAdjust="spacingAndGlyphs">20750.0</text>
<text x="1776.3" y="171.8" font-size="10.2" fill="#3a3a3a" stroke="#3a3a3a" stroke-width="0.15" text-anchor="start" textLength="38.2" lengthAdjust="spacingAndGlyphs">20500.0</text>
<text x="1776.3" y="201.8" font-size="10.2" fill="#3a3a3a" stroke="#3a3a3a" stroke-width="0.15" text-anchor="start" textLength="38.2" lengthAdjust="spacingAndGlyphs">20250.0</text>
<text x="1776.3" y="230.8" font-size="10.2" fill="#3a3a3a" stroke="#3a3a3a" stroke-width="0.15" text-anchor="start" textLength="38.2" lengthAdjust="spacingAndGlyphs">20000.0</text>
<text x="1776.3" y="259.8" font-size="10.2" fill="#3a3a3a" stroke="#3a3a3a" stroke-width="0.15" text-anchor="start" textLength="38.2" lengthAdjust="spacingAndGlyphs">19750.0</text>
<text x="1776.3" y="289.8" font-size="10.2" fill="#3a3a3a" stroke="#3a3a3a" stroke-width="0.15" text-anchor="start" textLength="38.2" lengthAdjust="spacingAndGlyphs">19500.0</text>
<text x="1776.3" y="318.8" font-size="10.2" fill="#3a3a3a" stroke="#3a3a3a" stroke-width="0.15" text-anchor="start" textLength="38.2" lengthAdjust="spacingAndGlyphs">19250.0</text>
<text x="1776.3" y="347.8" font-size="10.2" fill="#3a3a3a" stroke="#3a3a3a" stroke-width="0.15" text-anchor="start" textLength="38.2" lengthAdjust="spacingAndGlyphs">19000.0</text>
<text x="1776.3" y="377.8" font-size="10.2" fill="#3a3a3a" stroke="#3a3a3a" stroke-width="0.15" text-anchor="start" textLength="38.2" lengthAdjust="spacingAndGlyphs">18750.0</text>
<text x="1776.3" y="406.8" font-size="10.2" fill="#3a3a3a" stroke="#3a3a3a" stroke-width="0.15" text-anchor="start" textLength="38.2" lengthAdjust="spacingAndGlyphs">18500.0</text>
<text x="1776.3" y="435.8" font-size="10.2" fill="#3a3a3a" stroke="#3a3a3a" stroke-width="0.15" text-anchor="start" textLength="38.2" lengthAdjust="spacingAndGlyphs">18250.0</text>
<text x="1776.3" y="465.8" font-size="10.2" fill="#3a3a3a" stroke="#3a3a3a" stroke-width="0.15" text-anchor="start" textLength="38.2" lengthAdjust="spacingAndGlyphs">18000.0</text>
<text x="1776.3" y="494.8" font-size="10.2" fill="#3a3a3a" stroke="#3a3a3a" stroke-width="0.15" text-anchor="start" textLength="38.2" lengthAdjust="spacingAndGlyphs">17750.0</text>
<text x="1776.3" y="523.8" font-size="10.2" fill="#3a3a3a" stroke="#3a3a3a" stroke-width="0.15" text-anchor="start" textLength="38.2" lengthAdjust="spacingAndGlyphs">17500.0</text>
<text x="1776.3" y="553.8" font-size="10.2" fill="#3a3a3a" stroke="#3a3a3a" stroke-width="0.15" text-anchor="start" textLength="38.2" lengthAdjust="spacingAndGlyphs">17250.0</text>
<text x="1776.3" y="608.8" font-size="10.2" fill="#3a3a3a" stroke="#3a3a3a" stroke-width="0.15" text-anchor="start" textLength="27.4" lengthAdjust="spacingAndGlyphs">60.00</text>
<text x="1776.3" y="646.8" font-size="10.2" fill="#3a3a3a" stroke="#3a3a3a" stroke-width="0.15" text-anchor="start" textLength="27.4" lengthAdjust="spacingAndGlyphs">40.00</text>
<text x="1776.3" y="685.8" font-size="10.2" fill="#3a3a3a" stroke="#3a3a3a" stroke-width="0.15" text-anchor="start" textLength="27.4" lengthAdjust="spacingAndGlyphs">20.00</text>
<text x="1776.3" y="724.8" font-size="10.2" fill="#3a3a3a" stroke="#3a3a3a" stroke-width="0.15" text-anchor="start" textLength="15.7" lengthAdjust="spacingAndGlyphs">0.0</text>
<text x="1776.3" y="767.2" font-size="10.2" fill="#3a3a3a" stroke="#3a3a3a" stroke-width="0.15" text-anchor="start" textLength="32" lengthAdjust="spacingAndGlyphs">−400.0</text>
<path d="M1766 48.5 H1820 V61.9 Q1820 63.9 1818 63.9 H1766 Z" fill="url(#fade)"/>
<text x="1776.3" y="59.9" font-size="11" fill="#ffffff" stroke="#ffffff" stroke-width="0.12" text-anchor="start" font-weight="bold" textLength="38" lengthAdjust="spacingAndGlyphs">21464.7</text>
<path d="M1766 170.8 H1818 Q1820 170.8 1820 172.8 V185.8 Q1820 187.8 1818 187.8 H1766 Z" fill="#ff0000"/>
<text x="1776.3" y="183.8" font-size="11" fill="#ffffff" stroke="#ffffff" stroke-width="0.12" text-anchor="start" font-weight="bold" textLength="38" lengthAdjust="spacingAndGlyphs">20409.1</text>
<path d="M1766 297.0 H1818 Q1820 297.0 1820 299.0 V312.0 Q1820 314.0 1818 314.0 H1766 Z" fill="#ff0000"/>
<text x="1776.3" y="310.0" font-size="11" fill="#ffffff" stroke="#ffffff" stroke-width="0.12" text-anchor="start" font-weight="bold" textLength="38" lengthAdjust="spacingAndGlyphs">19334.4</text>
<path d="M1766 369.1 H1818 Q1820 369.1 1820 371.1 V384.1 Q1820 386.1 1818 386.1 H1766 Z" fill="#ff0000"/>
<text x="1776.3" y="382.1" font-size="11" fill="#ffffff" stroke="#ffffff" stroke-width="0.12" text-anchor="start" font-weight="bold" textLength="38" lengthAdjust="spacingAndGlyphs">18721.0</text>
<path d="M1766 430 H1818 Q1820 430 1820 432 V460 H1766 Z" fill="#ff0000"/>
<text x="1776.3" y="442.8" font-size="11" fill="#ffffff" stroke="#ffffff" stroke-width="0.12" text-anchor="start" font-weight="bold" textLength="38" lengthAdjust="spacingAndGlyphs">18197.8</text>
<text x="1776.3" y="455.8" font-size="11" fill="#ffe9e9" stroke="#ffe9e9" stroke-width="0.15" text-anchor="start" textLength="26.5" lengthAdjust="spacingAndGlyphs">17:44</text>
<path d="M1766 459.3 H1820 V474 Q1820 476 1818 476 H1766 Z" fill="#4caf50"/>
<text x="1776.3" y="471.6" font-size="11" fill="#ffffff" stroke="#ffffff" stroke-width="0.12" text-anchor="start" font-weight="bold" textLength="38" lengthAdjust="spacingAndGlyphs">18005.4</text>
<path d="M1766 501.7 H1818 Q1820 501.7 1820 503.7 V516.7 Q1820 518.7 1818 518.7 H1766 Z" fill="#4caf50"/>
<text x="1776.3" y="514.7" font-size="11" fill="#ffffff" stroke="#ffffff" stroke-width="0.12" text-anchor="start" font-weight="bold" textLength="38" lengthAdjust="spacingAndGlyphs">17591.9</text>
<path d="M1766 523.8 H1818 Q1820 523.8 1820 525.8 V538.8 Q1820 540.8 1818 540.8 H1766 Z" fill="#4caf50"/>
<text x="1776.3" y="536.8" font-size="11" fill="#ffffff" stroke="#ffffff" stroke-width="0.12" text-anchor="start" font-weight="bold" textLength="38" lengthAdjust="spacingAndGlyphs">17403.5</text>
<text x="122.5" y="798.6" font-size="10.5" fill="#3a3a3a" stroke="#3a3a3a" stroke-width="0.15" text-anchor="middle">12:00</text>
<text x="260.5" y="798.6" font-size="10.5" fill="#3a3a3a" stroke="#3a3a3a" stroke-width="0.15" text-anchor="middle">6</text>
<text x="399.5" y="798.6" font-size="10.5" fill="#3a3a3a" stroke="#3a3a3a" stroke-width="0.15" text-anchor="middle">12:00</text>
<text x="537.5" y="798.6" font-size="10.5" fill="#3a3a3a" stroke="#3a3a3a" stroke-width="0.15" text-anchor="middle">7</text>
<text x="675.5" y="798.6" font-size="10.5" fill="#3a3a3a" stroke="#3a3a3a" stroke-width="0.15" text-anchor="middle">12:00</text>
<text x="813.5" y="798.6" font-size="10.5" fill="#3a3a3a" stroke="#3a3a3a" stroke-width="0.15" text-anchor="middle">8</text>
<text x="951.5" y="798.6" font-size="10.5" fill="#3a3a3a" stroke="#3a3a3a" stroke-width="0.15" text-anchor="middle">12:00</text>
<text x="1089.5" y="798.6" font-size="10.5" fill="#3a3a3a" stroke="#3a3a3a" stroke-width="0.15" text-anchor="middle">9</text>
<text x="1227.5" y="798.6" font-size="10.5" fill="#3a3a3a" stroke="#3a3a3a" stroke-width="0.15" text-anchor="middle">12:00</text>
<text x="1365.5" y="798.6" font-size="10.5" fill="#3a3a3a" stroke="#3a3a3a" stroke-width="0.15" text-anchor="middle">10</text>
<text x="1503.5" y="798.6" font-size="10.5" fill="#3a3a3a" stroke="#3a3a3a" stroke-width="0.15" text-anchor="middle">12:00</text>
<text x="1641.5" y="798.6" font-size="10.5" fill="#3a3a3a" stroke="#3a3a3a" stroke-width="0.15" text-anchor="middle">11</text>
<text x="18.5" y="46" font-size="12" fill="#505050" stroke="#505050" stroke-width="0.15" text-anchor="start" textLength="176.5" lengthAdjust="spacingAndGlyphs">Bitcoin / U.S. Dollar, 1h, KRAKEN</text>
<text x="203.5" y="46" font-size="12" fill="#505050" stroke="#505050" stroke-width="0.15" text-anchor="start">O</text>
<text x="213" y="46" font-size="12" fill="#6e2a2a" stroke="#6e2a2a" stroke-width="0.15" text-anchor="start" textLength="40.1" lengthAdjust="spacingAndGlyphs">18328.8</text>
<text x="260.9" y="46" font-size="12" fill="#505050" stroke="#505050" stroke-width="0.15" text-anchor="start">H</text>
<text x="269.2" y="46" font-size="12" fill="#6e2a2a" stroke="#6e2a2a" stroke-width="0.15" text-anchor="start" textLength="40.4" lengthAdjust="spacingAndGlyphs">18410.7</text>
<text x="318.8" y="46" font-size="12" fill="#505050" stroke="#505050" stroke-width="0.15" text-anchor="start">L</text>
<text x="325.9" y="46" font-size="12" fill="#6e2a2a" stroke="#6e2a2a" stroke-width="0.15" text-anchor="start" textLength="39.7" lengthAdjust="spacingAndGlyphs">18174.6</text>
<text x="373.4" y="46" font-size="12" fill="#505050" stroke="#505050" stroke-width="0.15" text-anchor="start">C</text>
<text x="382.6" y="46" font-size="12" fill="#6e2a2a" stroke="#6e2a2a" stroke-width="0.15" text-anchor="start" textLength="39" lengthAdjust="spacingAndGlyphs">18197.8</text>
<text x="430.8" y="46" font-size="12" fill="#6e2a2a" stroke="#6e2a2a" stroke-width="0.15" text-anchor="start" textLength="83" lengthAdjust="spacingAndGlyphs">−122.0 (−0.67%)</text>
<text x="18.5" y="63.2" font-size="12" fill="#505050" stroke="#505050" stroke-width="0.15" text-anchor="start" textLength="151.7" lengthAdjust="spacingAndGlyphs">MA (100, close, 0, SMA, 100)</text>
<text x="178.7" y="63.2" font-size="12" fill="#ff2d46" stroke="#ff2d46" stroke-width="0.15" text-anchor="start" textLength="40.8" lengthAdjust="spacingAndGlyphs">20639.3</text>
<text x="18.1" y="594.6" font-size="12" fill="#505050" stroke="#505050" stroke-width="0.15" text-anchor="start" textLength="75.2" lengthAdjust="spacingAndGlyphs">RSI (14, close)</text>
<text x="102.5" y="594.6" font-size="12" fill="#9c27b0" stroke="#9c27b0" stroke-width="0.15" text-anchor="start" textLength="27.9" lengthAdjust="spacingAndGlyphs">32.03</text>
<text x="18.1" y="709.6" font-size="12" fill="#505050" stroke="#505050" stroke-width="0.15" text-anchor="start" textLength="124.8" lengthAdjust="spacingAndGlyphs">MACD (12, 26, close, 9)</text>
<text x="152" y="709.6" font-size="12" fill="#fa0a66" stroke="#fa0a66" stroke-width="0.15" text-anchor="start" textLength="28" lengthAdjust="spacingAndGlyphs">−50.5</text>
<text x="188" y="709.6" font-size="12" fill="#2a9df4" stroke="#2a9df4" stroke-width="0.15" text-anchor="start" textLength="34.9" lengthAdjust="spacingAndGlyphs">−528.5</text>
<text x="231.2" y="709.6" font-size="12" fill="#ff7a1a" stroke="#ff7a1a" stroke-width="0.15" text-anchor="start" textLength="35.3" lengthAdjust="spacingAndGlyphs">−478.0</text>
<text x="10.5" y="19.2" font-size="13" fill="#2b2b2b" stroke="#2b2b2b" stroke-width="0.15" text-anchor="start" textLength="368.5" lengthAdjust="spacingAndGlyphs">aayushjindal published on TradingView.com, Nov 09, 2022 02:42 UTC</text>
<g fill="#1c2030"><path d="M10 822.2 H19 V831.7 H14.4 V826.4 H10 Z"/><circle cx="21.6" cy="824.1" r="1.75"/><path d="M24.4 822.2 H29.2 L25.2 831.7 H20.4 Z"/></g>
<text x="34.4" y="831.7" font-size="12.5" fill="#1c2030" stroke="#1c2030" stroke-width="0.15" text-anchor="start" textLength="68.6" lengthAdjust="spacingAndGlyphs">TradingView</text>
</svg>
</body></html>
